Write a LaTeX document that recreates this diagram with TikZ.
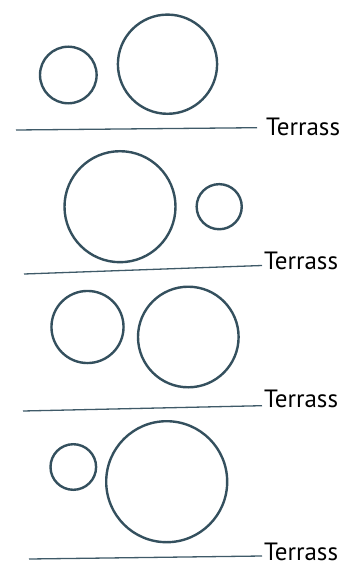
\documentclass[tikz,border=0pt]{standalone}
\usepackage{fontspec}
\setmainfont{PT Sans}
\definecolor{ink}{HTML}{34505E}
\definecolor{gline}{HTML}{3F5A68}
\begin{document}
\begin{tikzpicture}[x=1pt,y=-1pt,
  ring/.style={circle,draw=ink,line width=2.4pt,inner sep=0pt,minimum size=#1},
  ground/.style={draw=gline,line width=1.3pt},
  lbl/.style={anchor=base west,inner sep=0pt,font=\fontsize{25}{28}\selectfont}]
\useasboundingbox (0,0) rectangle (348,567);
% panel 1
\node[ring=56.6pt] (c1a) at (68.3,75) {};
\node[ring=99.2pt] (c1b) at (167.5,64.2) {};
\coordinate (g1s) at (16,130);
\coordinate (g1e) at (257,127.7);
\draw[ground] (g1s) -- (g1e);
\node[lbl] (t1) at (266,135.5) {Terrass};
% panel 2
\node[ring=111pt] (c2a) at (120,206.7) {};
\node[ring=45.1pt] (c2b) at (219.2,206.7) {};
\coordinate (g2s) at (24,274);
\coordinate (g2e) at (262,265.5);
\draw[ground] (g2s) -- (g2e);
\node[lbl] (t2) at (264,269) {Terrass};
% panel 3
\node[ring=72.1pt] (c3a) at (87.5,327) {};
\node[ring=100.6pt] (c3b) at (188.3,337) {};
\coordinate (g3s) at (23,411);
\coordinate (g3e) at (262,405.7);
\draw[ground] (g3s) -- (g3e);
\node[lbl] (t3) at (264,407.5) {Terrass};
% panel 4
\node[ring=45.6pt] (c4a) at (73.3,467) {};
\node[ring=121pt] (c4b) at (166.7,481.7) {};
\coordinate (g4s) at (29,559);
\coordinate (g4e) at (262,556);
\draw[ground] (g4s) -- (g4e);
\node[lbl] (t4) at (264,560) {Terrass};
\end{tikzpicture}
\end{document}
